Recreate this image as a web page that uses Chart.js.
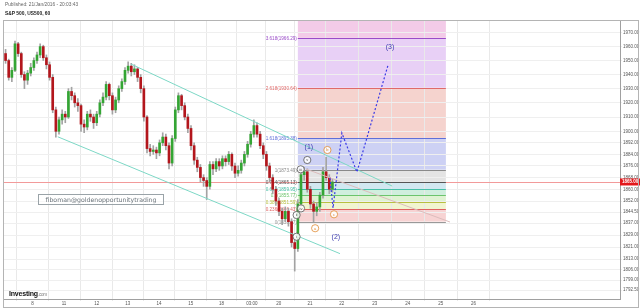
<!DOCTYPE html>
<html>
<head>
<meta charset="utf-8">
<script src="https://cdn.jsdelivr.net/npm/chart.js@4.4.0/dist/chart.umd.min.js"></script>
<style>
  html, body { margin: 0; padding: 0; background: #fff; }
  #wrap { position: relative; width: 640px; height: 308px; overflow: hidden; font-family: "Liberation Sans", Arial, sans-serif; }
  #chart { position: absolute; left: 0; top: 0; }
  .pub { position: absolute; left: 5px; top: 2px; font-size: 4.8px; color: #666; }
  .ttl { position: absolute; left: 5px; top: 11px; font-size: 4.9px; font-weight: bold; color: #222; }
  .frame { position: absolute; left: 3px; top: 20px; width: 634px; height: 286px; border: 1px solid #b4b4b4; pointer-events: none; }
  .wm { position: absolute; left: 38px; top: 194px; width: 124px; height: 9px; border: 1px solid #9aa3a8; font-family: "DejaVu Sans", sans-serif; font-size: 6.2px; line-height: 9px; color: #6a737a; text-align: center; background: rgba(255,255,255,0.5); }
  .logo { position: absolute; left: 9px; top: 290px; font-size: 7px; font-weight: bold; color: #111; letter-spacing: -0.2px; }
  .logo span { font-size: 4.5px; font-weight: normal; color: #777; }
</style>
</head>
<body>
<div id="wrap">
  <canvas id="chart" width="640" height="308"></canvas>
  <div class="frame"></div>
  <div class="pub">Published: 21/Jan/2016 - 20:03:43</div>
  <div class="ttl">S&amp;P 500, US500, 60</div>
  <div class="wm">fiboman@goldenopportunitytrading</div>
  <div class="logo">Investing<span>.com</span></div>
</div>
<script>
// x axis: hourly slots; day labels at slot where each session starts
var dayLabels = ['8', '11', '12', '13', '14', '15', '18', '03:00', '20', '21', '22', '23', '24', '25', '26'];
var dayTicks = [9.1, 19.1, 29.5, 39.4, 49.3, 59.4, 69.2, 78.9, 87.4, 97.4, 107.5, 118, 128.5, 139, 149.4];
var priceTicks = [1970, 1960, 1950, 1940, 1930, 1920, 1910, 1900, 1892, 1884, 1876, 1868, 1860, 1852,
  1844.5, 1837, 1829, 1821, 1813, 1806, 1799, 1792.5];

var opens = [1955,1950,1938,1943,1962,1955,1940,1936,1941,1945, 1950,1954,1960,1952,1947,1938,1915,1900,1908,1912,
  1910,1928,1925,1920,1918,1905,1903,1912,1910,1906, 1912,1920,1924,1933,1925,1915,1922,1930,1935,1943,
  1946,1942,1944,1938,1930,1910,1888,1886,1887,1885, 1892,1896,1890,1878,1895,1915,1925,1918,1910,1902,
  1890,1880,1875,1868,1866,1862,1877,1874,1879,1876, 1881,1879,1884,1876,1871,1873,1878,1884,1891,1898,
  1904,1898,1890,1884,1876,1868,1860,1852,1845,1840, 1845,1838,1824,1820,1850,1870,1872,1860,1850,1845,
  1848,1856,1872,1868,1860];
var highs = [1958,1951,1945,1964,1963,1956,1942,1943,1948,1952, 1956,1962,1961,1954,1949,1940,1917,1910,1915,1914,
  1930,1931,1927,1923,1919,1908,1914,1915,1912,1914, 1922,1927,1935,1934,1927,1924,1932,1937,1945,1949,
  1948,1947,1945,1940,1932,1911,1891,1890,1889,1894, 1899,1898,1892,1897,1917,1927,1926,1920,1912,1904,
  1892,1882,1877,1870,1868,1879,1879,1881,1881,1883, 1883,1886,1885,1878,1876,1880,1886,1893,1900,1908,
  1906,1900,1892,1886,1878,1870,1862,1854,1847,1848, 1847,1840,1827,1853,1872,1875,1874,1862,1852,1851,
  1858,1875,1882,1870,1867];
var lows = [1948,1936,1935,1942,1953,1938,1930,1933,1939,1943, 1948,1952,1950,1944,1936,1913,1896,1898,1905,1906,
  1909,1922,1917,1914,1900,1899,1901,1907,1902,1904, 1910,1918,1922,1922,1912,1913,1920,1928,1933,1941,
  1939,1940,1935,1927,1907,1885,1883,1884,1881,1883, 1890,1887,1874,1876,1893,1913,1915,1908,1899,1887,
  1877,1872,1865,1862,1853,1860,1870,1872,1873,1874, 1876,1877,1873,1868,1869,1871,1876,1882,1889,1896,
  1896,1888,1881,1873,1865,1857,1849,1842,1836,1838, 1835,1821,1805,1818,1848,1866,1858,1847,1838,1842,
  1845,1854,1866,1857,1858];
var closes = [1950,1938,1943,1962,1955,1940,1936,1941,1945,1950, 1954,1960,1952,1947,1938,1915,1900,1908,1912,1910,
  1928,1925,1920,1918,1905,1903,1912,1910,1906,1912, 1920,1924,1933,1925,1915,1922,1930,1935,1943,1946,
  1942,1944,1938,1930,1910,1888,1886,1887,1885,1892, 1896,1890,1878,1895,1915,1925,1918,1910,1902,1890,
  1880,1875,1868,1866,1862,1877,1874,1879,1876,1881, 1879,1884,1876,1871,1873,1878,1884,1891,1898,1904,
  1898,1890,1884,1876,1868,1860,1852,1845,1840,1845, 1838,1824,1820,1850,1870,1872,1860,1850,1845,1848,
  1856,1872,1868,1860,1865];
var lastPrice = 1865;

// fibonacci extension drawn on the chart
var fibRatios = ['0', '0.236', '0.382', '0.5', '0.618', '0.764', '1', '1.618', '2.618', '3.618'];
var fibPrices = [1838.07, 1846.43, 1851.59, 1855.77, 1859.95, 1865.13, 1873.49, 1895.38, 1930.64, 1966.29];
var fibSpan = [93.5, 140.6];

// trend channel, wave count and projected path
var upperChannel = [{x: 40.4, y: 1947.5}, {x: 123.5, y: 1862.2}];
var lowerChannel = [{x: 17.1, y: 1896.2}, {x: 106.9, y: 1816.6}];
var innerLine = [{x: 96.1, y: 1873.9}, {x: 141.9, y: 1837.8}];
var projection = [{x: 103.7, y: 1867.7}, {x: 104.7, y: 1847.3}, {x: 107.5, y: 1898.8}, {x: 112.3, y: 1871.8}, {x: 122.2, y: 1946.8}];
var waveLabels = [{t: '(1)', x: 97, y: 1889.1}, {t: '(2)', x: 105.6, y: 1827.7}, {t: '(3)', x: 122.8, y: 1959.7}];
var minorWaves = [
  {t: 'i', x: 93.1, y: 1827.9}, {t: 'ii', x: 93.1, y: 1842.5}, {t: 'iii', x: 94.4, y: 1873.7},
  {t: 'iv', x: 94.5, y: 1847.0}, {t: 'v', x: 96.5, y: 1880.1}
];
var abcWaves = [{t: 'a', x: 99.0, y: 1833.6}, {t: 'b', x: 102.9, y: 1887.0}, {t: 'c', x: 105.0, y: 1843.0}];

var fibZoneColors = ['#f7d3d3', '#f1f5d0', '#dff3d2', '#d0eedd', '#d2e8f1', '#e4e4e4', '#cdd1f4', '#f5d3ce', '#e8d0f6', '#f3cbe8'];
var fibLineColors = ['#999999', '#e06060', '#b8c040', '#6cc46c', '#48c0a8', '#555555', '#8a8a8a', '#5f6fd8', '#e06a6a', '#9a4cc8'];

var wicks = [], bodies = [], bodyColors = [];
for (var i = 0; i < closes.length; i++) {
  wicks.push({x: i + 0.5, y: [lows[i], highs[i]]});
  bodies.push({x: i + 0.5, y: [opens[i], closes[i]]});
  bodyColors.push(closes[i] >= opens[i] ? '#34a534' : '#b3161c');
}

function circled(ctx, px, py, t, col) {
  ctx.beginPath();
  ctx.arc(px, py, 3.6, 0, Math.PI * 2);
  ctx.fillStyle = 'rgba(255,255,255,0.85)';
  ctx.fill();
  ctx.lineWidth = 0.8;
  ctx.strokeStyle = col;
  ctx.stroke();
  ctx.fillStyle = col;
  ctx.font = '4px "Liberation Sans", sans-serif';
  ctx.textAlign = 'center';
  ctx.textBaseline = 'middle';
  ctx.fillText(t, px, py + 0.3);
}

var overlay = {
  id: 'overlay',
  beforeDraw: function(chart) {
    var ctx = chart.ctx, x = chart.scales.x, y = chart.scales.y;
    var xa = x.getPixelForValue(fibSpan[0]), xb = x.getPixelForValue(fibSpan[1]);
    ctx.save();
    for (var i = 0; i < fibPrices.length; i++) {
      var hi = i + 1 < fibPrices.length ? fibPrices[i + 1] : y.max;
      var ya = y.getPixelForValue(hi), yb = y.getPixelForValue(fibPrices[i]);
      ctx.fillStyle = fibZoneColors[i];
      ctx.fillRect(xa, ya, xb - xa, yb - ya);
    }
    ctx.restore();
  },
  beforeDatasetsDraw: function(chart) {
    var ctx = chart.ctx, a = chart.chartArea, x = chart.scales.x, y = chart.scales.y;
    var xa = x.getPixelForValue(fibSpan[0]), xb = x.getPixelForValue(fibSpan[1]);
    ctx.save();
    // current price line
    var py = Math.round(y.getPixelForValue(lastPrice)) + 0.5;
    ctx.strokeStyle = '#f29a9a';
    ctx.lineWidth = 1;
    ctx.beginPath(); ctx.moveTo(a.left, py); ctx.lineTo(a.right, py); ctx.stroke();
    ctx.font = '4.6px "Liberation Sans", sans-serif';
    ctx.textAlign = 'right';
    ctx.textBaseline = 'middle';
    for (var i = 0; i < fibPrices.length; i++) {
      var ly = Math.round(y.getPixelForValue(fibPrices[i])) + 0.5;
      ctx.strokeStyle = fibLineColors[i];
      ctx.beginPath(); ctx.moveTo(xa, ly); ctx.lineTo(xb, ly); ctx.stroke();
      ctx.fillStyle = fibLineColors[i];
      ctx.fillText(fibRatios[i] + '(' + fibPrices[i].toFixed(2) + ')', xa - 1, ly);
    }
    ctx.restore();
  },
  afterDatasetsDraw: function(chart) {
    var ctx = chart.ctx, x = chart.scales.x, y = chart.scales.y;
    ctx.save();
    ctx.font = '7px "Liberation Sans", sans-serif';
    ctx.fillStyle = '#3c3cae';
    ctx.textAlign = 'center';
    ctx.textBaseline = 'middle';
    waveLabels.forEach(function(w) {
      ctx.fillText(w.t, x.getPixelForValue(w.x), y.getPixelForValue(w.y));
    });
    minorWaves.forEach(function(w) {
      circled(ctx, x.getPixelForValue(w.x), y.getPixelForValue(w.y), w.t, '#555555');
    });
    abcWaves.forEach(function(w) {
      circled(ctx, x.getPixelForValue(w.x), y.getPixelForValue(w.y), w.t, '#e08a32');
    });
    ctx.restore();
  },
  afterDraw: function(chart) {
    var ctx = chart.ctx, a = chart.chartArea, y = chart.scales.y;
    var py = y.getPixelForValue(lastPrice);
    ctx.save();
    ctx.fillStyle = '#e3171b';
    ctx.fillRect(a.right, py - 3.5, 20, 7);
    ctx.fillStyle = '#fff';
    ctx.font = 'bold 4.5px "Liberation Sans", sans-serif';
    ctx.textAlign = 'left';
    ctx.textBaseline = 'middle';
    ctx.fillText(lastPrice.toFixed(2), a.right + 2, py);
    ctx.restore();
  }
};

new Chart(document.getElementById('chart'), {
  type: 'bar',
  data: {
    datasets: [
      { type: 'line', data: projection, borderColor: '#3a3ae6', borderWidth: 1.2, borderDash: [2, 2], pointRadius: 0, order: 0 },
      { type: 'line', data: upperChannel, borderColor: '#7dd8c6', borderWidth: 1, pointRadius: 0, order: 1 },
      { type: 'line', data: lowerChannel, borderColor: '#7dd8c6', borderWidth: 1, pointRadius: 0, order: 1 },
      { type: 'line', data: innerLine, borderColor: '#dcbcbc', borderWidth: 1, pointRadius: 0, order: 1 },
      { data: bodies, backgroundColor: bodyColors, barThickness: 2, grouped: false, borderWidth: 0, order: 2 },
      { data: wicks, backgroundColor: '#a3a3a3', barThickness: 1, grouped: false, borderWidth: 0, order: 3 }
    ]
  },
  options: {
    responsive: false,
    animation: false,
    devicePixelRatio: 1,
    layout: { padding: { left: 4, top: 21, right: 0, bottom: 0 } },
    plugins: { legend: { display: false }, tooltip: { enabled: false } },
    scales: {
      x: {
        type: 'linear',
        min: 0,
        max: 196,
        offset: false,
        afterBuildTicks: function(s) { s.ticks = dayTicks.map(function(v) { return {value: v}; }); },
        afterFit: function(s) { s.height = 9; },
        grid: { color: '#e9e9e9', tickLength: 2 },
        border: { color: '#a0a0a0' },
        ticks: {
          autoSkip: false, maxRotation: 0, minRotation: 0, padding: 0,
          color: '#555', font: { size: 4.5, family: 'Liberation Sans' },
          callback: function(v, i) { return dayLabels[i]; }
        }
      },
      y: {
        type: 'logarithmic',
        position: 'right',
        min: 1786.6,
        max: 1978.5,
        afterBuildTicks: function(s) { s.ticks = priceTicks.map(function(v) { return {value: v}; }); },
        afterFit: function(s) { s.width = 20; },
        grid: { color: '#efefef', tickLength: 2 },
        border: { color: '#a0a0a0' },
        ticks: {
          autoSkip: false, padding: 1,
          color: '#555', font: { size: 4.5, family: 'Liberation Sans' },
          callback: function(v) { return Number(v).toFixed(2); }
        }
      }
    }
  },
  plugins: [overlay]
});
</script>
</body>
</html>
